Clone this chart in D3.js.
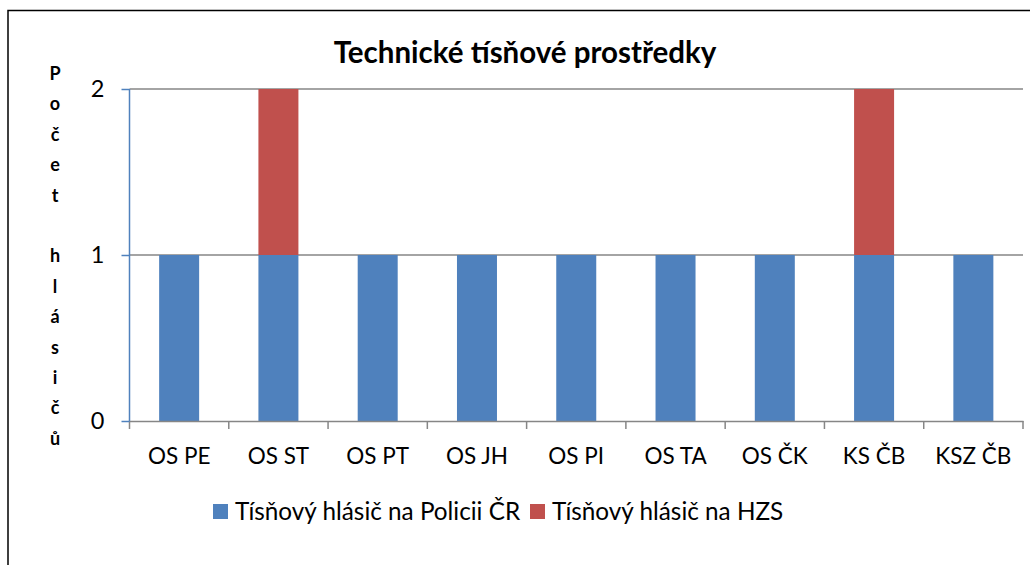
<!DOCTYPE html>
<html><head><meta charset="utf-8">
<script src="https://cdn.jsdelivr.net/npm/d3@7"></script>
<style>body{margin:0;background:#fff}svg{display:block}</style>
</head><body>
<svg id="c" width="1030" height="565"></svg>
<script>
const categories = ["OS PE","OS ST","OS PT","OS JH","OS PI","OS TA","OS ČK","KS ČB","KSZ ČB"];
const seriesNames = ["Tísňový hlásič na Policii ČR","Tísňový hlásič na HZS"];
const policie = [1,1,1,1,1,1,1,1,1];
const hzs = [0,1,0,0,0,0,0,1,0];
const yTicks = [0,1,2];
const colors = ["#4F81BD","#C0504D"];
const titleText = "Technické tísňové prostředky";
const yTitle = "Počet hlásičů";

(function(){
const svg = d3.select("#c");
const font = "Lato, 'Open Sans', sans-serif";
svg.append("rect").attr("x",8).attr("y",10.5).attr("width",1100).attr("height",700)
  .attr("fill","#fff").attr("stroke","#000").attr("stroke-width",1.5);

const pL=129.5, pR=1023, pT=89, pB=421;
const x = d3.scaleBand().domain(categories).range([pL,pR]).paddingInner(0).paddingOuter(0);
const y = d3.scaleLinear().domain([0,2]).range([pB,pT]);

svg.append("g").selectAll("line").data(yTicks.filter(d=>d>0)).join("line")
  .attr("x1",pL).attr("x2",pR).attr("y1",d=>y(d)).attr("y2",d=>y(d))
  .attr("stroke","#868686").attr("stroke-width",1.5);

const data = categories.map((c,i)=>({c, v:[policie[i],hzs[i]]}));
const bw = 40;
data.forEach(d=>{
  let acc=0;
  d.v.forEach((val,si)=>{
    if(val>0){
      svg.append("rect").attr("x",x(d.c)+x.bandwidth()/2-bw/2).attr("width",bw)
        .attr("y",y(acc+val)).attr("height",y(acc)-y(acc+val)).attr("fill",colors[si]);
    }
    acc+=val;
  });
});

const xa = svg.append("g").attr("transform",`translate(0,${pB})`)
  .call(d3.axisBottom(x).tickSize(0).tickPadding(27));
xa.select(".domain").attr("stroke","#868686").attr("stroke-width",1.5);
xa.selectAll("text").attr("font-family",font).attr("font-size",22.5).attr("fill","#000");
const bounds = categories.map(c=>x(c)).concat([pR]);
svg.append("g").selectAll("line").data(bounds).join("line")
  .attr("x1",d=>d).attr("x2",d=>d).attr("y1",pB).attr("y2",pB+8)
  .attr("stroke","#868686").attr("stroke-width",1.5);

const ya = svg.append("g").attr("transform",`translate(${pL},0)`)
  .call(d3.axisLeft(y).tickValues(yTicks).tickFormat(d3.format("d")).tickSize(8).tickPadding(17));
ya.select(".domain").attr("stroke","#4F81BD").attr("stroke-width",1.5).attr("d",`M0,${pB}V${pT}`);
ya.selectAll(".tick line").attr("stroke","#4F81BD").attr("stroke-width",1.5);
ya.selectAll("text").attr("font-family",font).attr("font-size",23.5).attr("fill","#000");

svg.append("text").attr("x",525).attr("y",63).attr("text-anchor","middle")
  .attr("font-family",font).attr("font-weight","bold").attr("font-size",29.5).text(titleText);

const letters = Array.from(yTitle);
svg.append("g").selectAll("text").data(letters).join("text")
  .attr("x",55).attr("y",(d,i)=>80+i*30.4).attr("text-anchor","middle")
  .attr("font-family",font).attr("font-weight","bold").attr("font-size",18).text(d=>d);

const legX=[213,530];
seriesNames.forEach((n,i)=>{
  svg.append("rect").attr("x",legX[i]).attr("y",504).attr("width",15).attr("height",15).attr("fill",colors[i]);
  svg.append("text").attr("x",legX[i]+22).attr("y",520).attr("font-family",font).attr("font-size",24.3).text(n);
});
})();
</script>
</body></html>
